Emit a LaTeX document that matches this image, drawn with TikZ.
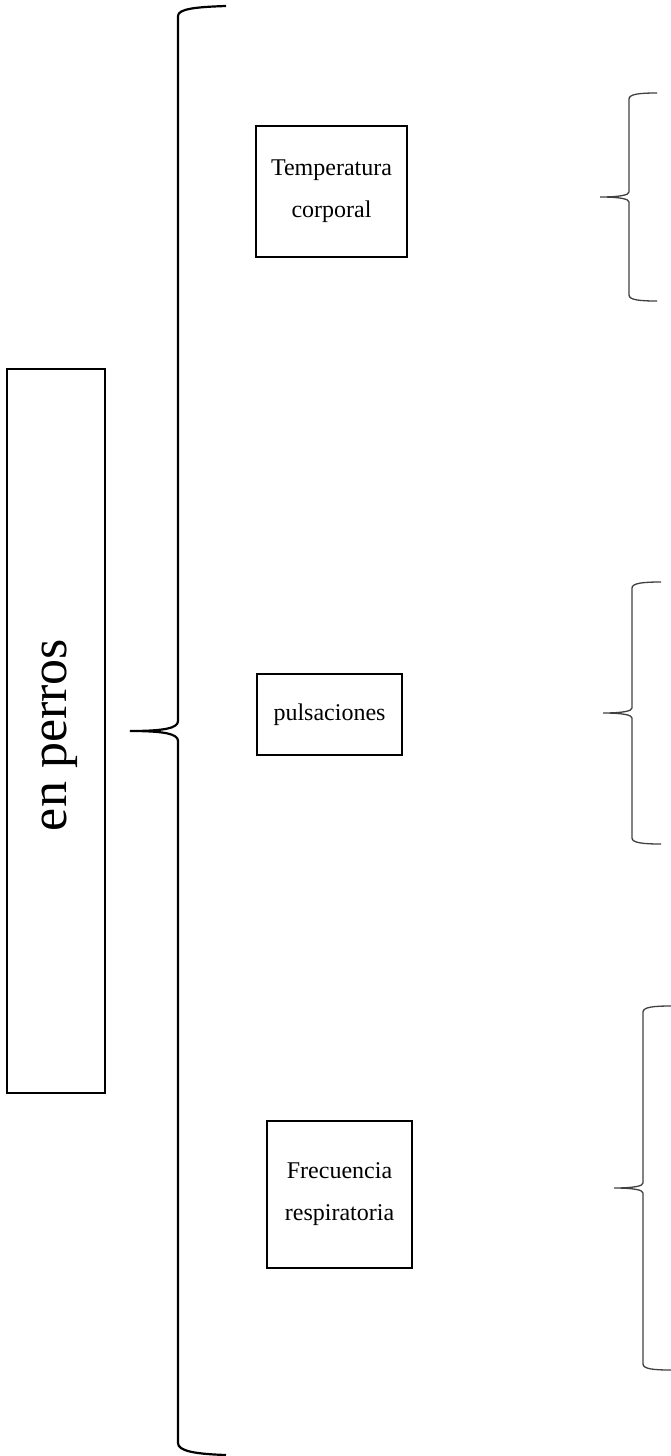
\documentclass[tikz,border=0pt]{standalone}
\usepackage{fontspec}
\setmainfont{Liberation Serif}
\begin{document}
\begin{tikzpicture}[x=1pt,y=-1pt,
  boxstyle/.style={draw=black,line width=1.1pt,inner sep=0pt,align=center,font=\fontsize{24}{42}\selectfont},
  bigbrace/.style={draw=black,line width=2.2pt},
  smallbrace/.style={draw=black!75,line width=1.3pt}]
\useasboundingbox (0,0) rectangle (671,1456);
% left box
\node[draw=black,line width=1.3pt,minimum width=98pt,minimum height=724pt,inner sep=0pt] (main) at (56,731) {};
\node[rotate=90,font=\fontsize{52}{56}\selectfont] (maintxt) at (60,735) {en perros};
% boxes
\node[boxstyle,minimum width=151pt,minimum height=131pt] (temp) at (331.5,191.5) {Temperatura\\corporal};
\node[boxstyle,minimum width=145pt,minimum height=81pt] (puls) at (329.5,714.5) {pulsaciones};
\node[boxstyle,minimum width=145pt,minimum height=147pt] (frec) at (339.5,1194.5) {Frecuencia\\respiratoria};
% big brace
\coordinate (bigtip) at (130,731);
\draw[bigbrace] (226,6) .. controls (195,7) and (178,9) .. (178,16)
  -- (178,721) .. controls (178,728) and (165,731) .. (bigtip)
  .. controls (165,731) and (178,734) .. (178,741)
  -- (178,1443) .. controls (178,1451) and (195,1454) .. (226,1455);
% small brace 1
\coordinate (tip1) at (600,197);
\draw[smallbrace] (657,93) .. controls (640,93) and (629,94) .. (629,99)
  -- (629,192) .. controls (629,195) and (620,197) .. (tip1)
  .. controls (620,197) and (629,199) .. (629,202)
  -- (629,295) .. controls (629,300) and (640,301) .. (657,301);
% small brace 2
\coordinate (tip2) at (603,713);
\draw[smallbrace] (661,582) .. controls (644,582) and (632,583) .. (632,588)
  -- (632,708) .. controls (632,711) and (623,713) .. (tip2)
  .. controls (623,713) and (632,715) .. (632,718)
  -- (632,838) .. controls (632,843) and (644,844) .. (661,844);
% small brace 3
\coordinate (tip3) at (614,1188);
\draw[smallbrace] (671,1006) .. controls (654,1006) and (643,1007) .. (643,1012)
  -- (643,1183) .. controls (643,1186) and (634,1188) .. (tip3)
  .. controls (634,1188) and (643,1190) .. (643,1193)
  -- (643,1364) .. controls (643,1369) and (654,1370) .. (671,1370);
\end{tikzpicture}
\end{document}
